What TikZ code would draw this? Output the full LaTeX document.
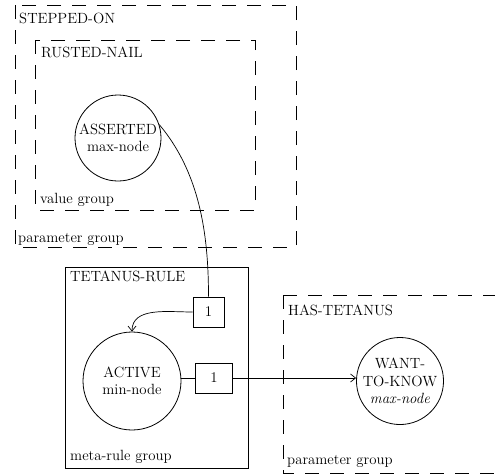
\documentclass[tikz,border=0pt]{standalone}
\usetikzlibrary{arrows.meta}
\begin{document}
\begin{tikzpicture}[x=1pt,y=-1pt,
  every node/.style={font=\fontsize{14.8}{17.5}\selectfont, inner sep=0pt},
  group/.style={draw, line width=0.8pt, dash pattern=on 14pt off 11pt},
  rulebox/.style={draw, line width=0.8pt},
  statenode/.style={draw, circle, line width=0.8pt, align=center},
  weightbox/.style={draw, line width=0.8pt, minimum height=30pt},
  lbl/.style={anchor=west},
  link/.style={line width=0.7pt},
  arr/.style={link, -{Straight Barb[length=5pt,width=8pt]}}]
\useasboundingbox (0,0) rectangle (495,475);

% parameter group STEPPED-ON with its value group RUSTED-NAIL
\draw[group] (15,5) rectangle (296,247);
\node[lbl] (stepped) at (19,18) {STEPPED-ON};
\node[lbl] (steppedgrp) at (18,239) {parameter group};
\draw[group] (35,40) rectangle (255,210);
\node[lbl] (rusted) at (41,52) {RUSTED-NAIL};
\node[lbl] (valuegrp) at (40,200) {value group};
\node[statenode, minimum size=86pt] (asserted) at (118,138) {ASSERTED\\max-node};

% meta-rule group TETANUS-RULE
\draw[rulebox] (65,267) rectangle (248,468);
\node[lbl] (tetanus) at (70,276) {TETANUS-RULE};
\node[lbl] (metagrp) at (70,457) {meta-rule group};
\node[weightbox, minimum width=31pt] (w1) at (208.5,312) {1};
\node[statenode, minimum size=98pt] (active) at (132,381) {ACTIVE\\min-node};
\node[weightbox, minimum width=37pt] (w2) at (214,378) {1};

% parameter group HAS-TETANUS
\draw[group] (283,295) -- (283,473) -- (500,473);
\draw[group] (283,295) -- (500,295);
\node[lbl] (hastet) at (288,310) {HAS-TETANUS};
\node[lbl] (hasgrp) at (287,461) {parameter group};
\node[statenode, minimum size=86pt] (want) at (400,381) {WANT-\\TO-KNOW\\\textit{max-node}};

% connectors
\draw[link] (asserted.18) to[out=-50,in=90,looseness=0.9] (w1.north);
\draw[arr] (w1.west) to[out=180,in=90] (active.north);
\draw[link] (active.east |- w2.west) -- (w2.west);
\draw[arr] (w2.east) -- (want.west |- w2.east);
\end{tikzpicture}
\end{document}
